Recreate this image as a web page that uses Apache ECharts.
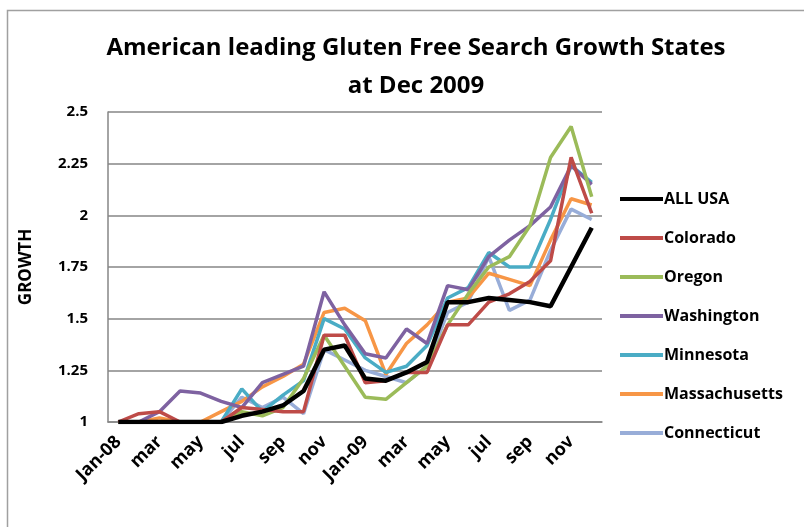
<!DOCTYPE html>
<html>
<head>
<meta charset="utf-8">
<script src="https://cdn.jsdelivr.net/npm/echarts@6/dist/echarts.min.js"></script>
<style>
  html, body { margin: 0; padding: 0; background: #fff; }
  #main { width: 804px; height: 527px; }
</style>
</head>
<body>
<div id="main"></div>
<script>
var months = ['Jan-08', 'feb', 'mar', 'apr', 'may', 'jun', 'jul', 'aug', 'sep', 'oct', 'nov', 'dec',
  'Jan-09', 'feb', 'mar', 'apr', 'may', 'jun', 'jul', 'aug', 'sep', 'oct', 'nov', 'dec'];
var yTicks = [1, 1.25, 1.5, 1.75, 2, 2.25, 2.5];

var allUsa = [1, 1, 1, 1, 1, 1, 1.03, 1.05, 1.08, 1.15, 1.35, 1.37,
  1.21, 1.2, 1.24, 1.29, 1.58, 1.58, 1.6, 1.59, 1.58, 1.56, 1.75, 1.94];
var colorado = [1, 1.04, 1.05, 1, 1, 1, 1.07, 1.06, 1.05, 1.05, 1.42, 1.42,
  1.19, 1.2, 1.24, 1.24, 1.47, 1.47, 1.58, 1.62, 1.68, 1.78, 2.28, 2.01];
var oregon = [1, 1, 1, 1, 1, 1, 1.05, 1.03, 1.07, 1.21, 1.42, 1.27,
  1.12, 1.11, 1.19, 1.27, 1.47, 1.62, 1.75, 1.8, 1.95, 2.28, 2.43, 2.09];
var washington = [1, 1, 1.05, 1.15, 1.14, 1.1, 1.07, 1.19, 1.23, 1.27, 1.63, 1.47,
  1.33, 1.31, 1.45, 1.38, 1.66, 1.64, 1.8, 1.88, 1.95, 2.04, 2.24, 2.15];
var minnesota = [1, 1, 1, 1, 1, 1, 1.16, 1.05, 1.13, 1.2, 1.5, 1.45,
  1.31, 1.24, 1.27, 1.37, 1.6, 1.65, 1.82, 1.75, 1.75, 1.98, 2.24, 2.16];
var massachusetts = [1, 1, 1.02, 1, 1, 1.05, 1.1, 1.17, 1.22, 1.28, 1.53, 1.55,
  1.49, 1.23, 1.38, 1.47, 1.58, 1.6, 1.72, 1.69, 1.66, 1.88, 2.08, 2.05];
var connecticut = [1, 1, 1, 1, 1, 1, 1.12, 1.07, 1.12, 1.04, 1.35, 1.3,
  1.25, 1.22, 1.19, 1.27, 1.53, 1.58, 1.8, 1.54, 1.59, 1.83, 2.03, 1.98];

var names = ['ALL USA', 'Colorado', 'Oregon', 'Washington', 'Minnesota', 'Massachusetts', 'Connecticut'];
var colors = ['#000000', '#BE4B48', '#9BBB59', '#7E62A1', '#4AACC5', '#F79646', '#98ADD8'];
var datas = [allUsa, colorado, oregon, washington, minnesota, massachusetts, connecticut];

var font = '"Open Sans", "Liberation Sans", sans-serif';

var series = [];
for (var i = datas.length - 1; i >= 0; i--) {
  series.push({
    name: names[i],
    type: 'line',
    data: datas[i],
    symbol: 'none',
    z: 10 - i,
    lineStyle: { color: colors[i], width: i == 0 ? 4.5 : 3.5 },
    itemStyle: { color: colors[i] }
  });
}

var chart = echarts.init(document.getElementById('main'));
chart.setOption({
  animation: false,
  backgroundColor: '#fff',
  color: colors,
  title: {
    text: 'American leading Gluten Free Search Growth States\nat Dec 2009',
    left: 411,
    top: 24,
    textAlign: 'center',
    textStyle: { fontFamily: font, fontSize: 24, fontWeight: 'bold', color: '#000', lineHeight: 38 }
  },
  graphic: [{
    type: 'rect',
    shape: { x: 7.5, y: 10.5, width: 820, height: 540 },
    style: { fill: 'none', stroke: '#a0a0a0', lineWidth: 1.5 },
    silent: true
  }],
  legend: {
    orient: 'vertical',
    left: 615,
    top: 186,
    itemGap: 23,
    itemWidth: 43,
    itemHeight: 4,
    icon: 'rect',
    data: names,
    textStyle: { fontFamily: font, fontSize: 16, fontWeight: 'bold', color: '#000', padding: [0, 0, 0, -4] }
  },
  grid: { left: 108, top: 112, width: 494, height: 310 },
  xAxis: {
    type: 'category',
    data: months,
    boundaryGap: true,
    axisLine: { lineStyle: { color: '#868686', width: 1.5 } },
    axisTick: { show: false },
    axisLabel: {
      interval: 1,
      rotate: 45,
      margin: 17,
      fontFamily: font, fontSize: 18, fontWeight: 'bold', color: '#000'
    }
  },
  yAxis: {
    type: 'value',
    min: 1,
    max: 2.5,
    interval: 0.25,
    name: 'GROWTH',
    nameLocation: 'middle',
    nameRotate: 90,
    nameGap: 73,
    nameTextStyle: { fontFamily: font, fontSize: 17, fontWeight: 'bold', color: '#000' },
    axisLine: { show: true, lineStyle: { color: '#868686', width: 1.5 } },
    axisTick: { show: false },
    splitLine: { lineStyle: { color: '#868686', width: 1.5 } },
    axisLabel: {
      margin: 20,
      fontFamily: font, fontSize: 15, fontWeight: 'bold', color: '#000',
      formatter: function (v) {
        for (var k = 0; k < yTicks.length; k++) {
          if (Math.abs(yTicks[k] - v) < 1e-6) return String(yTicks[k]);
        }
        return '';
      }
    }
  },
  series: series
});
</script>
</body>
</html>
